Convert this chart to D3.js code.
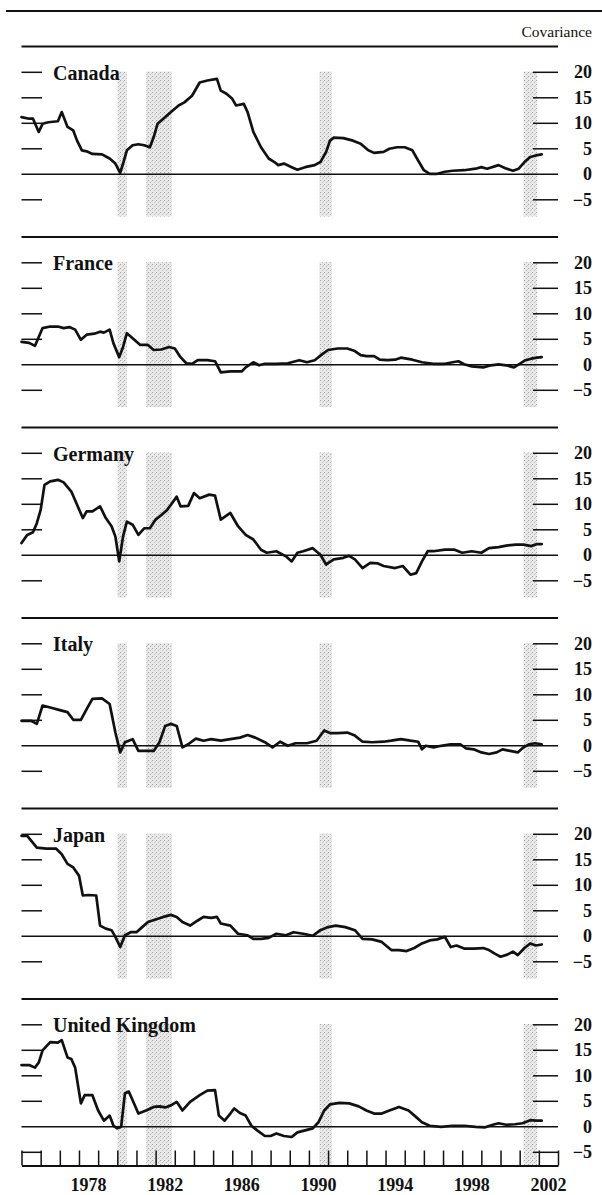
<!DOCTYPE html>
<html>
<head>
<meta charset="utf-8">
<script src="https://cdn.jsdelivr.net/npm/d3@7"></script>
<style>
  html, body { margin: 0; padding: 0; background: #fff; }
  svg { display: block; }
</style>
</head>
<body>
<div id="chart"></div>
<script>
// ---------- Data ----------
const countries = ["Canada", "France", "Germany", "Italy", "Japan", "United Kingdom"];

const canada = [[1975.0,11.2],[1975.4,10.9],[1975.6,10.9],[1975.9,8.3],[1976.1,9.9],[1976.4,10.2],[1976.9,10.4],[1977.1,12.2],[1977.4,9.3],[1977.7,8.6],[1977.9,6.6],[1978.15,4.7],[1978.4,4.5],[1978.7,4.0],[1979.2,3.9],[1979.6,3.1],[1979.9,2.1],[1980.15,0.3],[1980.3,2.1],[1980.5,4.7],[1980.8,5.7],[1981.1,5.9],[1981.4,5.7],[1981.7,5.3],[1981.9,7.3],[1982.1,9.9],[1982.4,10.9],[1982.8,12.2],[1983.2,13.5],[1983.5,14.1],[1983.9,15.4],[1984.3,18.0],[1984.7,18.4],[1985.2,18.7],[1985.4,16.4],[1985.7,15.8],[1986.0,14.8],[1986.2,13.5],[1986.6,13.8],[1986.8,12.2],[1987.1,8.3],[1987.5,5.3],[1987.9,3.1],[1988.2,2.4],[1988.4,1.8],[1988.7,2.1],[1989.1,1.4],[1989.4,0.9],[1989.8,1.4],[1990.3,1.8],[1990.6,2.4],[1990.9,4.4],[1991.1,6.6],[1991.3,7.2],[1991.8,7.1],[1992.3,6.6],[1992.7,6.0],[1993.1,4.7],[1993.4,4.2],[1993.9,4.4],[1994.2,5.0],[1994.6,5.3],[1995.0,5.3],[1995.4,4.7],[1995.7,2.7],[1996.0,0.8],[1996.3,0.1],[1996.7,0.1],[1997.1,0.5],[1997.5,0.7],[1998.1,0.8],[1998.7,1.1],[1999.0,1.4],[1999.3,1.1],[1999.9,1.8],[2000.25,1.2],[2000.65,0.7],[2000.95,1.1],[2001.25,2.4],[2001.55,3.4],[2001.85,3.7],[2002.15,3.9]];

const france = [[1975.0,4.5],[1975.4,4.3],[1975.7,3.7],[1976.1,7.2],[1976.5,7.5],[1976.9,7.5],[1977.2,7.2],[1977.5,7.4],[1977.8,6.9],[1978.1,4.9],[1978.4,5.9],[1978.8,6.1],[1979.1,6.5],[1979.3,6.3],[1979.6,6.9],[1979.8,4.2],[1980.1,1.5],[1980.3,3.5],[1980.5,6.2],[1980.8,5.2],[1981.2,3.9],[1981.6,3.9],[1981.9,2.9],[1982.3,3.0],[1982.7,3.5],[1983.0,3.2],[1983.3,1.5],[1983.6,0.3],[1983.9,0.2],[1984.2,0.9],[1984.7,0.9],[1985.1,0.7],[1985.4,-1.5],[1985.9,-1.3],[1986.5,-1.3],[1986.7,-0.5],[1987.1,0.5],[1987.4,-0.1],[1987.7,0.2],[1988.3,0.2],[1988.9,0.3],[1989.5,0.9],[1989.9,0.5],[1990.3,0.9],[1990.7,2.1],[1991.0,2.9],[1991.5,3.2],[1992.0,3.2],[1992.4,2.7],[1992.7,1.9],[1993.0,1.7],[1993.4,1.7],[1993.7,1.0],[1994.1,0.9],[1994.5,1.0],[1994.8,1.4],[1995.4,1.0],[1995.9,0.5],[1996.5,0.2],[1997.1,0.2],[1997.5,0.5],[1997.8,0.7],[1998.1,0.1],[1998.5,-0.3],[1999.1,-0.5],[1999.5,-0.1],[1999.9,0.1],[2000.3,-0.1],[2000.7,-0.5],[2001.0,0.2],[2001.3,0.9],[2001.6,1.2],[2001.9,1.4],[2002.15,1.5]];

const germany = [[1975.0,2.4],[1975.3,4.0],[1975.6,4.5],[1975.8,6.3],[1976.0,8.9],[1976.2,13.8],[1976.5,14.5],[1976.9,14.8],[1977.2,14.3],[1977.6,12.5],[1977.9,9.9],[1978.2,7.3],[1978.4,8.6],[1978.7,8.6],[1979.1,9.6],[1979.4,7.3],[1979.7,5.7],[1979.9,3.7],[1980.1,-1.2],[1980.3,3.7],[1980.5,6.6],[1980.8,6.0],[1981.1,4.0],[1981.4,5.3],[1981.7,5.3],[1982.0,7.0],[1982.3,7.9],[1982.6,8.9],[1982.8,9.9],[1983.1,11.5],[1983.3,9.6],[1983.7,9.7],[1984.0,12.2],[1984.3,11.2],[1984.8,11.9],[1985.1,11.7],[1985.4,7.0],[1985.9,8.3],[1986.3,5.7],[1986.7,4.0],[1987.1,3.1],[1987.5,1.1],[1987.8,0.5],[1988.3,0.8],[1988.8,-0.2],[1989.1,-1.2],[1989.4,0.5],[1989.7,0.8],[1990.2,1.4],[1990.6,0.1],[1990.9,-1.8],[1991.3,-0.8],[1991.8,-0.5],[1992.1,-0.1],[1992.4,-0.8],[1992.8,-2.5],[1993.2,-1.5],[1993.6,-1.6],[1993.9,-2.1],[1994.5,-2.5],[1994.9,-2.1],[1995.3,-3.8],[1995.6,-3.5],[1995.9,-1.2],[1996.2,0.8],[1996.5,0.8],[1997.1,1.1],[1997.6,1.1],[1998.0,0.5],[1998.5,0.8],[1999.0,0.5],[1999.4,1.4],[1999.9,1.6],[2000.3,1.9],[2000.8,2.1],[2001.2,2.1],[2001.6,1.8],[2001.9,2.2],[2002.15,2.2]];

const italy = [[1975.0,4.9],[1975.5,4.9],[1975.8,4.3],[1976.1,7.9],[1976.5,7.5],[1977.0,7.0],[1977.4,6.6],[1977.7,5.1],[1978.1,5.1],[1978.4,7.2],[1978.7,9.2],[1979.2,9.3],[1979.6,8.2],[1979.9,2.6],[1980.15,-1.3],[1980.4,0.7],[1980.8,1.3],[1981.1,-1.0],[1981.5,-1.0],[1981.9,-1.0],[1982.2,0.7],[1982.5,3.9],[1982.8,4.3],[1983.1,3.9],[1983.4,-0.3],[1983.7,0.3],[1984.1,1.4],[1984.5,1.0],[1984.9,1.3],[1985.4,1.0],[1985.9,1.3],[1986.4,1.6],[1986.8,2.1],[1987.2,1.6],[1987.7,0.7],[1988.1,-0.3],[1988.5,0.8],[1988.9,0.0],[1989.3,0.5],[1989.9,0.5],[1990.4,1.0],[1990.8,3.0],[1991.1,2.5],[1991.5,2.5],[1992.0,2.6],[1992.4,2.0],[1992.8,0.8],[1993.3,0.7],[1993.9,0.8],[1994.3,1.0],[1994.8,1.3],[1995.3,1.0],[1995.7,0.8],[1995.9,-0.7],[1996.1,0.0],[1996.5,-0.3],[1996.9,0.0],[1997.4,0.3],[1997.9,0.3],[1998.2,-0.5],[1998.6,-0.7],[1999.0,-1.3],[1999.4,-1.6],[1999.8,-1.3],[2000.1,-0.7],[2000.5,-1.0],[2000.9,-1.3],[2001.2,-0.3],[2001.5,0.3],[2001.8,0.5],[2002.15,0.3]];

const japan = [[1975.0,19.7],[1975.3,19.7],[1975.8,17.4],[1976.3,17.2],[1976.8,17.2],[1977.1,16.1],[1977.4,14.2],[1977.7,13.5],[1978.0,11.9],[1978.2,8.0],[1978.5,8.1],[1978.9,8.0],[1979.1,2.1],[1979.4,1.5],[1979.7,1.2],[1979.9,-0.1],[1980.15,-2.1],[1980.4,0.2],[1980.7,0.8],[1981.0,0.8],[1981.3,1.8],[1981.6,2.8],[1982.0,3.3],[1982.4,3.8],[1982.8,4.2],[1983.1,3.8],[1983.4,2.8],[1983.8,2.1],[1984.2,3.1],[1984.5,3.8],[1984.9,3.6],[1985.2,3.8],[1985.4,2.5],[1985.9,2.1],[1986.3,0.5],[1986.8,0.2],[1987.1,-0.5],[1987.5,-0.5],[1987.9,-0.3],[1988.3,0.5],[1988.8,0.2],[1989.2,0.8],[1989.7,0.5],[1990.2,0.1],[1990.6,1.2],[1991.0,1.8],[1991.4,2.1],[1991.9,1.8],[1992.4,1.2],[1992.8,-0.5],[1993.3,-0.6],[1993.8,-1.1],[1994.3,-2.7],[1994.7,-2.7],[1995.1,-2.9],[1995.5,-2.3],[1995.9,-1.4],[1996.3,-0.8],[1996.7,-0.6],[1997.1,-0.1],[1997.4,-2.1],[1997.7,-1.8],[1998.1,-2.4],[1998.6,-2.4],[1999.1,-2.3],[1999.4,-2.7],[1999.7,-3.4],[2000.0,-4.0],[2000.35,-3.6],[2000.65,-3.0],[2000.9,-3.7],[2001.25,-2.3],[2001.55,-1.4],[2001.85,-1.8],[2002.15,-1.6]];

const unitedKingdom = [[1975.0,12.1],[1975.4,12.1],[1975.7,11.6],[1975.9,12.6],[1976.1,15.0],[1976.5,16.6],[1976.9,16.5],[1977.1,17.0],[1977.4,13.6],[1977.6,13.3],[1977.8,11.6],[1978.1,4.6],[1978.3,6.2],[1978.7,6.2],[1979.0,3.2],[1979.3,1.2],[1979.6,2.2],[1979.8,0.2],[1980.0,-0.3],[1980.2,0.0],[1980.4,6.6],[1980.6,6.9],[1980.8,5.2],[1981.1,2.6],[1981.5,3.2],[1981.9,3.9],[1982.2,4.0],[1982.5,3.8],[1982.8,4.2],[1983.1,4.9],[1983.4,3.2],[1983.8,4.9],[1984.3,6.2],[1984.7,7.1],[1985.1,7.2],[1985.3,2.2],[1985.6,1.2],[1985.9,2.6],[1986.1,3.6],[1986.4,2.7],[1986.7,2.2],[1987.0,0.2],[1987.3,-0.7],[1987.7,-1.8],[1988.0,-1.8],[1988.3,-1.3],[1988.7,-1.8],[1989.1,-2.0],[1989.4,-1.1],[1989.8,-0.7],[1990.2,-0.3],[1990.5,0.9],[1990.8,3.2],[1991.1,4.4],[1991.6,4.7],[1992.1,4.6],[1992.6,4.0],[1993.0,3.2],[1993.4,2.6],[1993.8,2.6],[1994.2,3.2],[1994.7,3.9],[1995.2,3.2],[1995.6,1.9],[1995.9,0.9],[1996.3,0.2],[1996.9,0.0],[1997.5,0.2],[1998.1,0.2],[1998.7,0.0],[1999.2,-0.1],[1999.6,0.4],[1999.9,0.7],[2000.3,0.4],[2000.75,0.5],[2001.15,0.7],[2001.55,1.3],[2001.85,1.2],[2002.15,1.2]];

const seriesList = [canada, france, germany, italy, japan, unitedKingdom];

// Recession bands (start, end year)
const recessionStarts = [1980.0, 1981.5, 1990.55, 2001.2];
const recessionEnds   = [1980.5, 1982.85, 1991.2, 2001.9];

const yTicks = [20, 15, 10, 5, 0, -5];
const yearLabels = [1978, 1982, 1986, 1990, 1994, 1998, 2002];
const yearTicks = d3.range(1975, 2004);
const axisTitle = "Covariance";

// ---------- Layout ----------
const W = 602, H = 1195;
const left = 21.5, right = 558;
const panelTop0 = 46.5, panelStep = 190.5;
const SERIF = "'Liberation Serif', 'DejaVu Serif', 'Times New Roman', serif";

const svg = d3.select("#chart").append("svg")
  .attr("width", W).attr("height", H)
  .attr("viewBox", `0 0 ${W} ${H}`)
  .attr("font-family", SERIF);

svg.append("rect").attr("width", W).attr("height", H).attr("fill", "#fff");

// stipple pattern for recession shading
const defs = svg.append("defs");
const pat = defs.append("pattern").attr("id", "stip")
  .attr("patternUnits", "userSpaceOnUse").attr("width", 4).attr("height", 4);
pat.append("rect").attr("width", 4).attr("height", 4).attr("fill", "#e2e2e2");
pat.append("rect").attr("x", 0).attr("y", 0).attr("width", 1).attr("height", 1).attr("fill", "#808080");
pat.append("rect").attr("x", 2).attr("y", 2).attr("width", 1).attr("height", 1).attr("fill", "#a0a0a0");
pat.append("rect").attr("x", 3).attr("y", 1).attr("width", 1).attr("height", 1).attr("fill", "#bdbdbd");

const x = d3.scaleLinear().domain([1975, 2003]).range([left, right]);

// top rule
svg.append("line").attr("x1", 6).attr("x2", 602).attr("y1", 11).attr("y2", 11)
  .attr("stroke", "#111").attr("stroke-width", 2);

svg.append("text").attr("x", 592).attr("y", 37)
  .attr("text-anchor", "end").attr("font-size", 15.5).attr("fill", "#111")
  .attr("font-family", SERIF)
  .text(axisTitle);

const recessions = recessionStarts.map((s, i) => [s, recessionEnds[i]]);

countries.forEach((name, i) => {
  const T = panelTop0 + i * panelStep;
  const isLast = i === countries.length - 1;
  const y = d3.scaleLinear().domain([-5, 20]).range([T + 153.3, T + 25.8]);
  const g = svg.append("g");

  // separator line at top of panel
  g.append("line").attr("x1", left).attr("x2", right).attr("y1", T).attr("y2", T)
    .attr("stroke", "#111").attr("stroke-width", 2);

  // recession bands
  const bandBottom = isLast ? T + 166.5 : T + 170;
  g.selectAll("rect.rec").data(recessions).join("rect")
    .attr("class", "rec")
    .attr("x", d => x(d[0]))
    .attr("width", d => x(d[1]) - x(d[0]))
    .attr("y", T + 25)
    .attr("height", bandBottom - (T + 25))
    .attr("fill", "url(#stip)")
    .attr("opacity", 0.75);

  // left and right ticks (no zero; zero is a full line)
  const tk = yTicks.filter(v => v !== 0);
  g.selectAll("line.lt").data(tk).join("line").attr("class", "lt")
    .attr("x1", left).attr("x2", 42)
    .attr("y1", d => y(d)).attr("y2", d => y(d))
    .attr("stroke", "#111").attr("stroke-width", 1.5);
  g.selectAll("line.rt").data(tk).join("line").attr("class", "rt")
    .attr("x1", 533).attr("x2", right)
    .attr("y1", d => y(d)).attr("y2", d => y(d))
    .attr("stroke", "#111").attr("stroke-width", 1.5);

  // zero line
  g.append("line").attr("x1", left).attr("x2", right)
    .attr("y1", y(0)).attr("y2", y(0))
    .attr("stroke", "#111").attr("stroke-width", 1.4);

  // right tick labels
  g.selectAll("text.yl").data(yTicks).join("text").attr("class", "yl")
    .attr("x", 592).attr("y", d => y(d) + 6)
    .attr("text-anchor", "end")
    .attr("font-family", SERIF)
    .attr("font-size", 18).attr("font-weight", "bold").attr("fill", "#111")
    .text(d => d < 0 ? "\u2212" + Math.abs(d) : d);

  // country label
  g.append("text").attr("x", 53).attr("y", T + 33)
    .attr("font-family", SERIF)
    .attr("font-size", 20).attr("font-weight", "bold").attr("fill", "#111")
    .text(name);

  // series line
  const line = d3.line().x(d => x(d[0])).y(d => y(d[1]));
  g.append("path").datum(seriesList[i])
    .attr("d", line)
    .attr("fill", "none").attr("stroke", "#111")
    .attr("stroke-width", 2.7).attr("stroke-linejoin", "round").attr("stroke-linecap", "round");

  if (isLast) {
    const axisY = T + 166.5;
    const axis = d3.axisBottom(x).tickValues(yearTicks).tickSize(0).tickFormat("");
    const ag = svg.append("g").attr("transform", `translate(0,${axisY})`).call(axis);
    ag.select(".domain").attr("stroke", "#111").attr("stroke-width", 1.8);
    ag.selectAll(".tick line").remove();
    ag.selectAll(".tick").append("line")
      .attr("y1", 0).attr("y2", -15)
      .attr("stroke", "#111").attr("stroke-width", 1.5);

    svg.selectAll("text.xl").data(yearLabels).join("text").attr("class", "xl")
      .attr("x", d => x(d + 0.5)).attr("y", axisY + 25)
      .attr("text-anchor", "middle")
      .attr("font-family", SERIF)
      .attr("font-size", 18).attr("font-weight", "bold").attr("fill", "#111")
      .text(d => d);
  }
});
</script>
</body>
</html>
